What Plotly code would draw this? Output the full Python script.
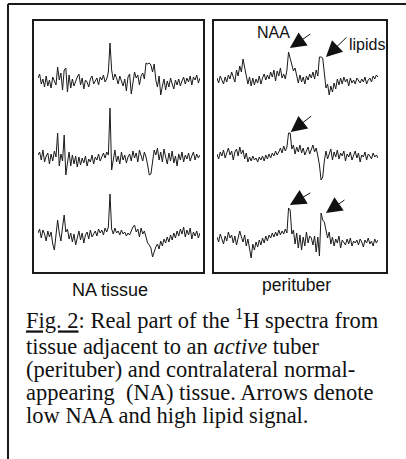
import plotly.graph_objects as go

W, H = 406, 459

# Spectra intensities (relative to baseline, arbitrary units), 100 points each
na_1 = [4, 8, -2, 3, -5, 6, -4, 2, -6, 5, 1, -3, 15, 2, 9, -8, 12, 14, -10, 7,
        -6, 3, -4, 1, 5, 8, -3, 4, -7, 2, 0, -5, 3, 6, -2, 1, 4, -3, 5, 2,
        7, 0, 3, 10, 39, 12, 2, 8, 4, -2, 6, 1, -4, 3, -9, 5, 8, -12, 2, 10,
        4, 7, -3, 6, 9, 3, 19, 18, 19, 17, 10, 18, 2, -5, 6, -13, -4, 3, -8, 1,
        -5, 4, -2, -7, 2, -3, 3, -4, 1, 5, -2, 4, 0, 6, -3, 5, 2, 7, -1, 4]
na_2 = [3, 6, -2, 8, -4, 2, 5, -6, 4, -3, 7, 1, 25, -8, 4, -3, 23, -17, -5, 6,
        -8, 3, -6, 2, -9, 1, -7, 0, -5, 2, -8, -1, -4, 3, -6, 1, -2, 4, -3, 2,
        5, 0, 6, 3, 50, -12, -3, 8, -4, 2, -6, 6, -2, 3, -5, 1, 4, -3, 7, 0,
        5, -4, 8, 2, -3, 6, 1, -7, -17, -16, -5, 8, 3, 10, -2, 6, -4, 9, 1, -6,
        5, -3, 7, -5, 2, -8, 4, -2, 6, -4, 3, -1, 5, -3, 2, 6, -2, 4, 0, 3]
na_3 = [2, 6, -3, 5, 1, -6, 4, -2, 3, -9, -15, 4, 15, 2, -6, 8, 20, 3, 6, -4,
        2, -7, 1, -10, -3, 4, -5, 2, -8, 0, 3, -4, 5, -2, 1, 4, -1, 6, 2, 5,
        0, 7, 3, 8, 41, 6, 1, 7, 2, 4, 0, 5, 1, 3, -1, 2, 0, 4, 8, 10,
        3, 6, -2, 7, 1, 4, -3, -8, -10, -13, -22, -16, -12, -9, -14, -6, -11, -4, -8, -2,
        -7, 0, -5, 2, -3, 4, -1, 6, 1, 8, -2, 5, 0, 7, -4, 3, -1, 4, -3, 2]
peri_1 = [2, -3, 4, 0, -4, 3, -2, 5, 1, 8, 3, -2, 10, 4, 14, 8, 21, 12, 6, -4,
          3, -6, 2, -5, 1, -3, 4, -4, 2, 6, 0, 5, 1, 8, 3, 10, -1, 9, 4, 12,
          2, 6, 1, 10, 28, 22, 15, 9, 12, 4, -3, 5, -2, 3, -4, 4, 0, 6, 2, 8,
          1, 10, 4, 23, 23, 22, 3, -8, -4, -15, -6, -12, -3, -9, 1, -5, 2, -4, 3, -2,
          1, -6, 2, -3, 0, -4, 2, -1, -3, 1, -2, 3, -4, 0, 2, -2, 4, 1, 5, 3]
peri_2 = [3, -2, 5, 1, 7, -1, 4, 9, 2, 6, -3, 5, 8, 1, 10, 3, 7, -2, 4, -5,
          0, -4, 1, -3, -1, -5, 0, -3, 1, -4, 2, -2, 3, -1, 4, 1, 6, 2, 5, 9,
          4, 11, 6, 10, 24, 24, 8, 12, 3, 10, 5, 12, 4, 9, 2, 7, 10, 3, 8, 12,
          5, 9, 1, -8, -23, -20, -4, 6, -2, 4, 8, -3, 5, 0, 7, -2, 4, 1, 6, -4,
          3, 0, 5, -3, 2, 6, -1, 4, -5, 2, 0, 5, -3, 3, 1, -2, 4, 0, 2, -1]
peri_3 = [3, -2, 6, 1, -4, 4, -1, 8, 2, 5, -3, 4, -5, 2, 9, 3, -2, 5, -6, 1,
          -9, -18, -4, -10, -2, -7, 0, -5, 2, -3, 4, -1, 5, 2, 7, 3, 8, 4, 10, 5,
          9, 6, 11, 7, 32, 30, 6, 10, -4, 7, -8, 5, -10, 3, -6, 8, -3, 4, 2, -5,
          4, -12, 3, -16, 27, 20, 18, 8, 2, 8, -4, 3, -6, 1, -3, 4, -8, 0, -2, -5,
          1, -4, 2, -6, -1, -3, 0, -5, 1, -2, -7, 0, -3, 2, -4, -1, -6, 1, -3, 0]

spectra = [na_1, na_2, na_3, peri_1, peri_2, peri_3]

panel_labels = ["NA tissue", "perituber"]
caption_lines = [
    "<u>Fig. 2</u>: Real part of the <sup>1</sup>H spectra from",
    "tissue adjacent to an <i>active</i> tuber",
    "(perituber) and contralateral normal-",
    "appearing  (NA) tissue. Arrows denote",
    "low NAA and high lipid signal.",
]
caption_y = [318.5, 346.5, 369.6, 392.7, 415.8]


def px(x):
    return x / W


def py(y):
    return 1 - y / H


# layout geometry (pixels)
cols = [(38, 200), (217, 378)]
baselines = [[82, 158, 235], [80, 157, 240]]

fig = go.Figure()
layout = dict(width=W, height=H, margin=dict(l=0, r=0, t=0, b=0),
              paper_bgcolor="white", plot_bgcolor="rgba(0,0,0,0)",
              showlegend=False)

k = 0
for c in range(2):
    for r in range(3):
        k += 1
        vals = spectra[k - 1]
        x0, x1 = cols[c]
        b = baselines[c][r]
        xs = "" if k == 1 else str(k)
        fig.add_trace(go.Scatter(x=list(range(len(vals))), y=vals, mode="lines",
                                 line=dict(color="#1a1a1a", width=1),
                                 xaxis="x" + xs, yaxis="y" + xs,
                                 hoverinfo="skip"))
        layout["xaxis" + xs] = dict(domain=[px(x0), px(x1)], range=[0, len(vals) - 1],
                                    visible=False, anchor="y" + xs, fixedrange=True)
        layout["yaxis" + xs] = dict(domain=[py(b + 30), py(b - 60)], range=[-30, 60],
                                    visible=False, anchor="x" + xs, fixedrange=True)

fig.update_layout(**layout)

shapes = []
# outer frame (top and left edges)
shapes.append(dict(type="line", xref="paper", yref="paper", x0=px(8), x1=px(406),
                   y0=py(4), y1=py(4), line=dict(color="#1a1a1a", width=2)))
shapes.append(dict(type="line", xref="paper", yref="paper", x0=px(8), x1=px(8),
                   y0=py(4), y1=py(459), line=dict(color="#1a1a1a", width=2)))
# panel boxes
for (bx0, bx1) in [(33, 204), (213, 387)]:
    shapes.append(dict(type="rect", xref="paper", yref="paper",
                       x0=px(bx0), x1=px(bx1), y0=py(273), y1=py(20),
                       line=dict(color="#1a1a1a", width=2), fillcolor="rgba(0,0,0,0)"))
fig.update_layout(shapes=shapes)

ann = []
# panel labels
ann.append(dict(text=panel_labels[0], x=px(110), y=py(290), xref="paper", yref="paper",
                showarrow=False, xanchor="center", yanchor="middle",
                font=dict(family="Liberation Sans, Arial", size=18, color="#111")))
ann.append(dict(text=panel_labels[1], x=px(296), y=py(285), xref="paper", yref="paper",
                showarrow=False, xanchor="center", yanchor="middle",
                font=dict(family="Liberation Sans, Arial", size=17.5, color="#111")))
# peak labels
ann.append(dict(text="NAA", x=px(273), y=py(33), xref="paper", yref="paper",
                showarrow=False, xanchor="center", yanchor="middle",
                font=dict(family="Liberation Sans, Arial", size=16, color="#111")))
ann.append(dict(text="lipids", x=px(347), y=py(45), xref="paper", yref="paper",
                showarrow=False, xanchor="left", yanchor="middle",
                font=dict(family="Liberation Sans, Arial", size=16, color="#111")))

# arrows: (axis index, point index, offset above value, ax, ay)
arrows = [(4, 44.8, 4, 22, -15), (4, 67, 0, 22, -21),
          (5, 45.3, 1, 22, -17),
          (6, 44.8, 3, 22, -13), (6, 67, 0, 20, -14)]
arrow_vals = {4: peri_1, 5: peri_2, 6: peri_3}
for (ax_i, xi, off, dx, dy) in arrows:
    vals = arrow_vals[ax_i]
    yv = max(vals[int(xi) - 3:int(xi) + 1]) + off
    ann.append(dict(x=xi, y=yv, xref="x%d" % ax_i, yref="y%d" % ax_i,
                    showarrow=True, ax=dx, ay=dy, text="",
                    arrowhead=2, arrowsize=3.2, arrowwidth=1, arrowcolor="#111",
                    standoff=0))

# caption
for line, yc in zip(caption_lines, caption_y):
    ann.append(dict(text=line, x=px(24), y=py(yc), xref="paper", yref="paper",
                    showarrow=False, xanchor="left", yanchor="middle",
                    font=dict(family="Liberation Serif, Times New Roman", size=22.5,
                              color="#111")))
fig.update_layout(annotations=ann)

fig.write_html("out.html", config={"displayModeBar": False},
               post_script="document.body.style.margin='0';")
